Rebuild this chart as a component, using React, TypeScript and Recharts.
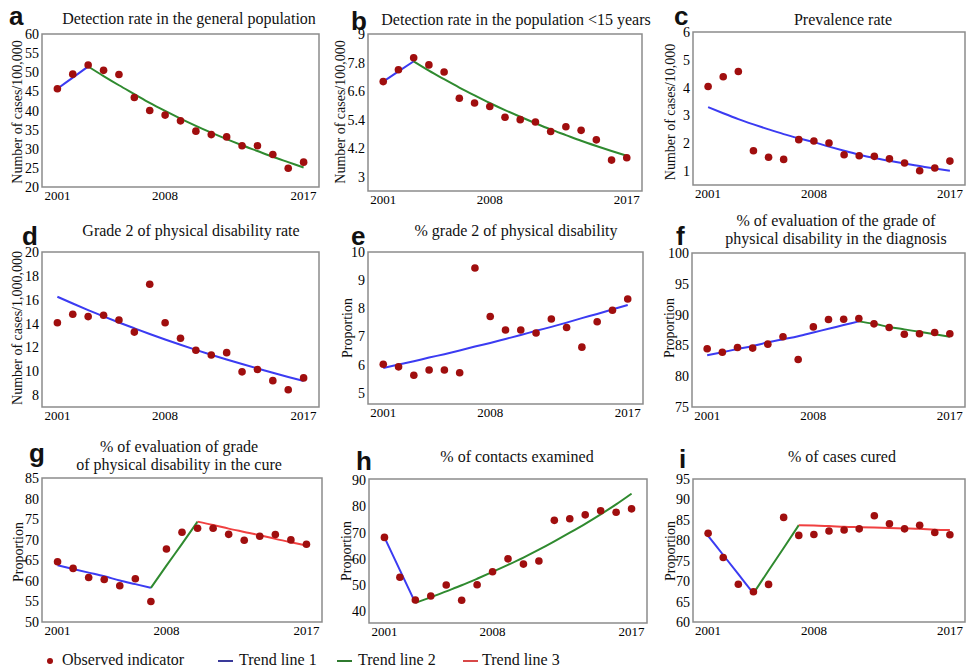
import React from 'react';
import { ComposedChart, Line, XAxis, YAxis, ReferenceArea } from 'recharts';

const SERIF = "'Liberation Serif', 'Times New Roman', serif";
const SANS = "'Liberation Sans', Arial, sans-serif";
const BLUE = '#3b3bf2';
const GREEN = '#2f8a2f';
const RED = '#f04040';
const DOT = '#a00e0e';

const years = [2001, 2002, 2003, 2004, 2005, 2006, 2007, 2008, 2009, 2010, 2011, 2012, 2013, 2014, 2015, 2016, 2017];
const xTicks = [2001, 2008, 2017];

// a
const aObs = [45.7, 49.5, 51.9, 50.5, 49.4, 43.4, 40.0, 38.8, 37.3, 34.6, 33.7, 33.1, 30.8, 30.8, 28.5, 24.9, 26.5];
const aTrend1 = [45.7, 48.6, 51.5];
const aTrend2 = [51.5, 49.0, 46.6, 44.3, 42.0, 39.9, 37.9, 36.0, 34.2, 32.5, 30.9, 29.4, 27.9, 26.5, 25.1];
const aTicks = [20, 25, 30, 35, 40, 45, 50, 55, 60];

// b
const bObs = [7.0, 7.5, 8.0, 7.7, 7.4, 6.3, 6.1, 5.95, 5.5, 5.4, 5.3, 4.9, 5.1, 4.95, 4.55, 3.7, 3.8];
const bTrend1 = [7.0, 7.43, 7.85];
const bTrend2 = [7.85, 7.46, 7.1, 6.75, 6.42, 6.1, 5.8, 5.52, 5.25, 4.99, 4.75, 4.51, 4.29, 4.08, 3.88];
const bTicks = [3, 4.2, 5.4, 6.6, 7.8, 9];

// c
const cObs = [4.04, 4.39, 4.58, 1.73, 1.5, 1.42, 2.13, 2.08, 2.01, 1.59, 1.55, 1.53, 1.44, 1.29, 1.01, 1.11, 1.36];
const cTrend1 = [3.3, 3.08, 2.87, 2.68, 2.5, 2.33, 2.18, 2.04, 1.88, 1.73, 1.59, 1.47, 1.37, 1.27, 1.18, 1.09, 1.01];
const cTicks = [1, 2, 3, 4, 5, 6];

// d
const dObs = [14.07, 14.78, 14.58, 14.69, 14.3, 13.28, 17.29, 14.07, 12.77, 11.76, 11.36, 11.56, 9.95, 10.15, 9.21, 8.45, 9.44];
const dTrend1 = [16.25, 15.68, 15.13, 14.6, 14.09, 13.6, 13.12, 12.66, 12.22, 11.79, 11.38, 10.98, 10.6, 10.23, 9.87, 9.52, 9.19];
const dTicks = [8, 10, 12, 14, 16, 18, 20];

// e
const eObs = [6.01, 5.92, 5.62, 5.81, 5.81, 5.71, 9.43, 7.71, 7.23, 7.23, 7.12, 7.62, 7.32, 6.62, 7.52, 7.93, 8.33];
const eTrend1 = [5.88, 6.0, 6.12, 6.25, 6.37, 6.5, 6.64, 6.77, 6.91, 7.05, 7.2, 7.34, 7.49, 7.65, 7.8, 7.96, 8.12];
const eTicks = [5, 6, 7, 8, 9, 10];

// f
const fObs = [84.45, 83.9, 84.67, 84.56, 85.2, 86.4, 82.7, 88.0, 89.2, 89.25, 89.36, 88.5, 87.9, 86.8, 86.9, 87.1, 86.9];
const fTrend1 = [83.4, 83.9, 84.4, 84.9, 85.5, 86.0, 86.5, 87.1, 87.7, 88.3, 88.9];
const fTrend2 = [88.9, 88.5, 88.0, 87.6, 87.2, 86.8, 86.4];
const fTicks = [75, 80, 85, 90, 95, 100];

// g
const gObs = [64.66, 63.03, 60.83, 60.34, 58.8, 60.5, 54.97, 67.75, 71.8, 72.8, 72.8, 71.3, 69.87, 70.85, 71.25, 69.95, 68.9];
const gTrend1 = [63.8, 62.9, 62.0, 61.1, 60.1, 59.2, 58.3];
const gTrend2 = [58.3, 63.7, 69.0, 74.4];
const gTrend3 = [74.4, 73.6, 72.7, 71.9, 71.1, 70.2, 69.4, 68.6];
const gTicks = [50, 55, 60, 65, 70, 75, 80, 85];

// h
const hObs = [68.2, 53.0, 44.3, 45.8, 50.0, 44.2, 50.1, 55.1, 60.0, 58.0, 59.2, 74.7, 75.3, 76.8, 78.4, 77.8, 79.1];
const hTrend1 = [68.2, 55.7, 43.2];
const hTrend2 = [43.2, 45.3, 47.6, 49.9, 52.4, 55.0, 57.7, 60.5, 63.5, 66.7, 70.0, 73.4, 77.0, 80.8, 84.9];
const hTicks = [40, 50, 60, 70, 80, 90];

// i
const iObs = [81.7, 75.8, 69.25, 67.4, 69.2, 85.6, 81.2, 81.4, 82.26, 82.5, 82.8, 86.0, 84.06, 82.8, 83.65, 81.9, 81.36];
const iTrend1 = [81.1, 76.4, 71.7, 67.0];
const iTrend2 = [67.0, 72.6, 78.1, 83.7];
const iTrend3 = [83.7, 83.6, 83.5, 83.3, 83.2, 83.1, 83.0, 82.9, 82.8, 82.6, 82.5];
const iTicks = [60, 65, 70, 75, 80, 85, 90, 95];

type Trend = { data: number[]; start: number };

function buildRows(obs: number[], trends: Trend[]) {
  return years.map((y, i) => {
    const row: any = { year: y, obs: obs[i] };
    trends.forEach((t, k) => {
      const j = y - t.start;
      row['t' + (k + 1)] = j >= 0 && j < t.data.length ? t.data[j] : null;
    });
    return row;
  });
}

const TREND_COLORS = [BLUE, GREEN, RED];

// lb = letter baseline
const panels = [
  { letter: 'a', lx: 9, lb: 25, obs: aObs, trends: [{ data: aTrend1, start: 2001 }, { data: aTrend2, start: 2003 }], domain: [20, 60], ticks: aTicks,
    px: 42, py: 34, pw: 277, ph: 153, title: ['Detection rate in the general population'], tx: 189, tb: 24,
    yLabel: 'Number of cases/100,000', yx: 17.5, yy: 112 },
  { letter: 'b', lx: 351, lb: 30, obs: bObs, trends: [{ data: bTrend1, start: 2001 }, { data: bTrend2, start: 2003 }], domain: [2.4, 9], ticks: bTicks,
    px: 368, py: 34, pw: 274, ph: 157, title: ['Detection rate in the population <15 years'], tx: 516, tb: 25,
    yLabel: 'Number of cases/100,000', yx: 341, yy: 112 },
  { letter: 'c', lx: 674, lb: 25, obs: cObs, trends: [{ data: cTrend1, start: 2001 }], domain: [0.5, 6], ticks: cTicks,
    px: 693, py: 32, pw: 272, ph: 153, title: ['Prevalence rate'], tx: 843, tb: 25,
    yLabel: 'Number of cases/10,000', yx: 671, yy: 112 },
  { letter: 'd', lx: 22, lb: 245, obs: dObs, trends: [{ data: dTrend1, start: 2001 }], domain: [7, 20], ticks: dTicks,
    px: 42, py: 252, pw: 277, ph: 155, title: ['Grade 2 of physical disability rate'], tx: 191, tb: 236,
    yLabel: 'Number of cases/1,000,000', yx: 18, yy: 328 },
  { letter: 'e', lx: 351, lb: 245, obs: eObs, trends: [{ data: eTrend1, start: 2001 }], domain: [4.6, 10], ticks: eTicks,
    px: 368, py: 252, pw: 275, ph: 152, title: ['% grade 2 of physical disability'], tx: 516, tb: 236,
    yLabel: 'Proportion', yx: 348, yy: 328 },
  { letter: 'f', lx: 676, lb: 245, obs: fObs, trends: [{ data: fTrend1, start: 2001 }, { data: fTrend2, start: 2011 }], domain: [75, 100], ticks: fTicks,
    px: 692, py: 253, pw: 273, ph: 154, title: ['% of evaluation of the grade of', 'physical disability in the diagnosis'], tx: 836, tb: 226.7,
    yLabel: 'Proportion', yx: 670, yy: 328 },
  { letter: 'g', lx: 29, lb: 462, obs: gObs, trends: [{ data: gTrend1, start: 2001 }, { data: gTrend2, start: 2007 }, { data: gTrend3, start: 2010 }], domain: [50, 85], ticks: gTicks,
    px: 42, py: 478, pw: 280, ph: 144, title: ['% of evaluation of grade', 'of physical disability in the cure'], tx: 179, tb: 452,
    yLabel: 'Proportion', yx: 19, yy: 552 },
  { letter: 'h', lx: 356, lb: 470, obs: hObs, trends: [{ data: hTrend1, start: 2001 }, { data: hTrend2, start: 2003 }], domain: [35.5, 90.5], ticks: hTicks,
    px: 369, py: 479, pw: 278, ph: 144, title: ['% of contacts examined'], tx: 517, tb: 462,
    yLabel: 'Proportion', yx: 347, yy: 551 },
  { letter: 'i', lx: 679, lb: 468, obs: iObs, trends: [{ data: iTrend1, start: 2001 }, { data: iTrend2, start: 2004 }, { data: iTrend3, start: 2007 }], domain: [60, 95], ticks: iTicks,
    px: 693, py: 479, pw: 272, ph: 143, title: ['% of cases cured'], tx: 842, tb: 462,
    yLabel: 'Proportion', yx: 671, yy: 551 },
];

const ML = 44;
const MT = 6;
const MR = 6;
const XH = 24;

function XTick(props: any) {
  const { x, y, payload } = props;
  return (
    <text x={x} y={y + 13} textAnchor="middle" style={{ fontFamily: SERIF, fontSize: 13 }} fill="#000">
      {payload.value}
    </text>
  );
}

function YTick(props: any) {
  const { x, y, payload } = props;
  return (
    <text x={x} y={y + 5} textAnchor="end" style={{ fontFamily: SERIF, fontSize: 14 }} fill="#000">
      {payload.value}
    </text>
  );
}

function Panel({ p }: { p: any }) {
  const rows = buildRows(p.obs, p.trends);
  const w = p.pw + ML + MR;
  const h = p.ph + MT + XH;
  return (
    <>
      <div style={{ position: 'absolute', left: p.px - ML, top: p.py - MT, fontFamily: SERIF }}>
        <ComposedChart width={w} height={h} data={rows} margin={{ top: MT, right: MR, left: 0, bottom: 0 }}>
          <XAxis dataKey="year" type="number" domain={[2000, 2018]} ticks={xTicks} interval={0}
            tickLine={false} axisLine={false} tickSize={0} tickMargin={0} height={XH} tick={<XTick />} allowDataOverflow />
          <YAxis type="number" domain={p.domain} ticks={p.ticks} interval={0} width={ML}
            tickLine={false} axisLine={false} tickSize={0} tickMargin={3} tick={<YTick />} allowDataOverflow />
          <ReferenceArea x1={2000} x2={2018} y1={p.domain[0]} y2={p.domain[1]} fill="#fff" fillOpacity={0}
            stroke="#8c8c8c" strokeWidth={1.5} ifOverflow="visible" />
          {p.trends.map((t: Trend, k: number) => (
            <Line key={k} dataKey={'t' + (k + 1)} type="monotone" stroke={TREND_COLORS[k]} strokeWidth={2}
              dot={false} activeDot={false} connectNulls={false} isAnimationActive={false} />
          ))}
          <Line dataKey="obs" stroke="none" strokeWidth={0} dot={{ r: 3.8, fill: DOT, stroke: 'none' }}
            activeDot={false} isAnimationActive={false} />
        </ComposedChart>
      </div>
      <div style={{ position: 'absolute', left: p.tx - 200, width: 400, top: p.tb - 14.4, textAlign: 'center',
        fontFamily: SERIF, fontSize: 16, lineHeight: '18px', color: '#111', whiteSpace: 'nowrap' }}>
        {p.title.map((t: string, i: number) => <div key={i}>{t}</div>)}
      </div>
      <div style={{ position: 'absolute', left: p.lx, top: p.lb - 19, fontFamily: SANS, fontWeight: 'bold', fontSize: 26,
        lineHeight: '20px', color: '#111' }}>{p.letter}</div>
      <div style={{ position: 'absolute', left: p.yx, top: p.yy, transform: 'translate(-50%, -50%) rotate(-90deg)',
        fontFamily: SERIF, fontSize: 14, lineHeight: '14px', color: '#111', whiteSpace: 'nowrap' }}>{p.yLabel}</div>
    </>
  );
}

const legendItems = [
  { label: 'Observed indicator', kind: 'dot', color: DOT, mx: 50, tx: 62 },
  { label: 'Trend line 1', kind: 'line', color: '#3a3a9a', mx: 218, tx: 239 },
  { label: 'Trend line 2', kind: 'line', color: '#2f7a2f', mx: 337, tx: 358 },
  { label: 'Trend line 3', kind: 'line', color: '#d84848', mx: 463, tx: 482 },
];

export default function App() {
  return (
    <div style={{ position: 'absolute', left: 0, top: 0, width: 966, height: 670, overflow: 'hidden', background: '#fff' }}>
      {panels.map((p) => <Panel key={p.letter} p={p} />)}
      {legendItems.map((it) => (
        <React.Fragment key={it.label}>
          {it.kind === 'dot' ? (
            <div style={{ position: 'absolute', left: it.mx - 3, top: 658, width: 6, height: 6, borderRadius: 3, background: it.color }} />
          ) : (
            <div style={{ position: 'absolute', left: it.mx, top: 660, width: 15, height: 2, background: it.color }} />
          )}
          <div style={{ position: 'absolute', left: it.tx, top: 651.6, fontFamily: SERIF, fontSize: 16, lineHeight: '16px', color: '#111', whiteSpace: 'nowrap' }}>{it.label}</div>
        </React.Fragment>
      ))}
    </div>
  );
}
